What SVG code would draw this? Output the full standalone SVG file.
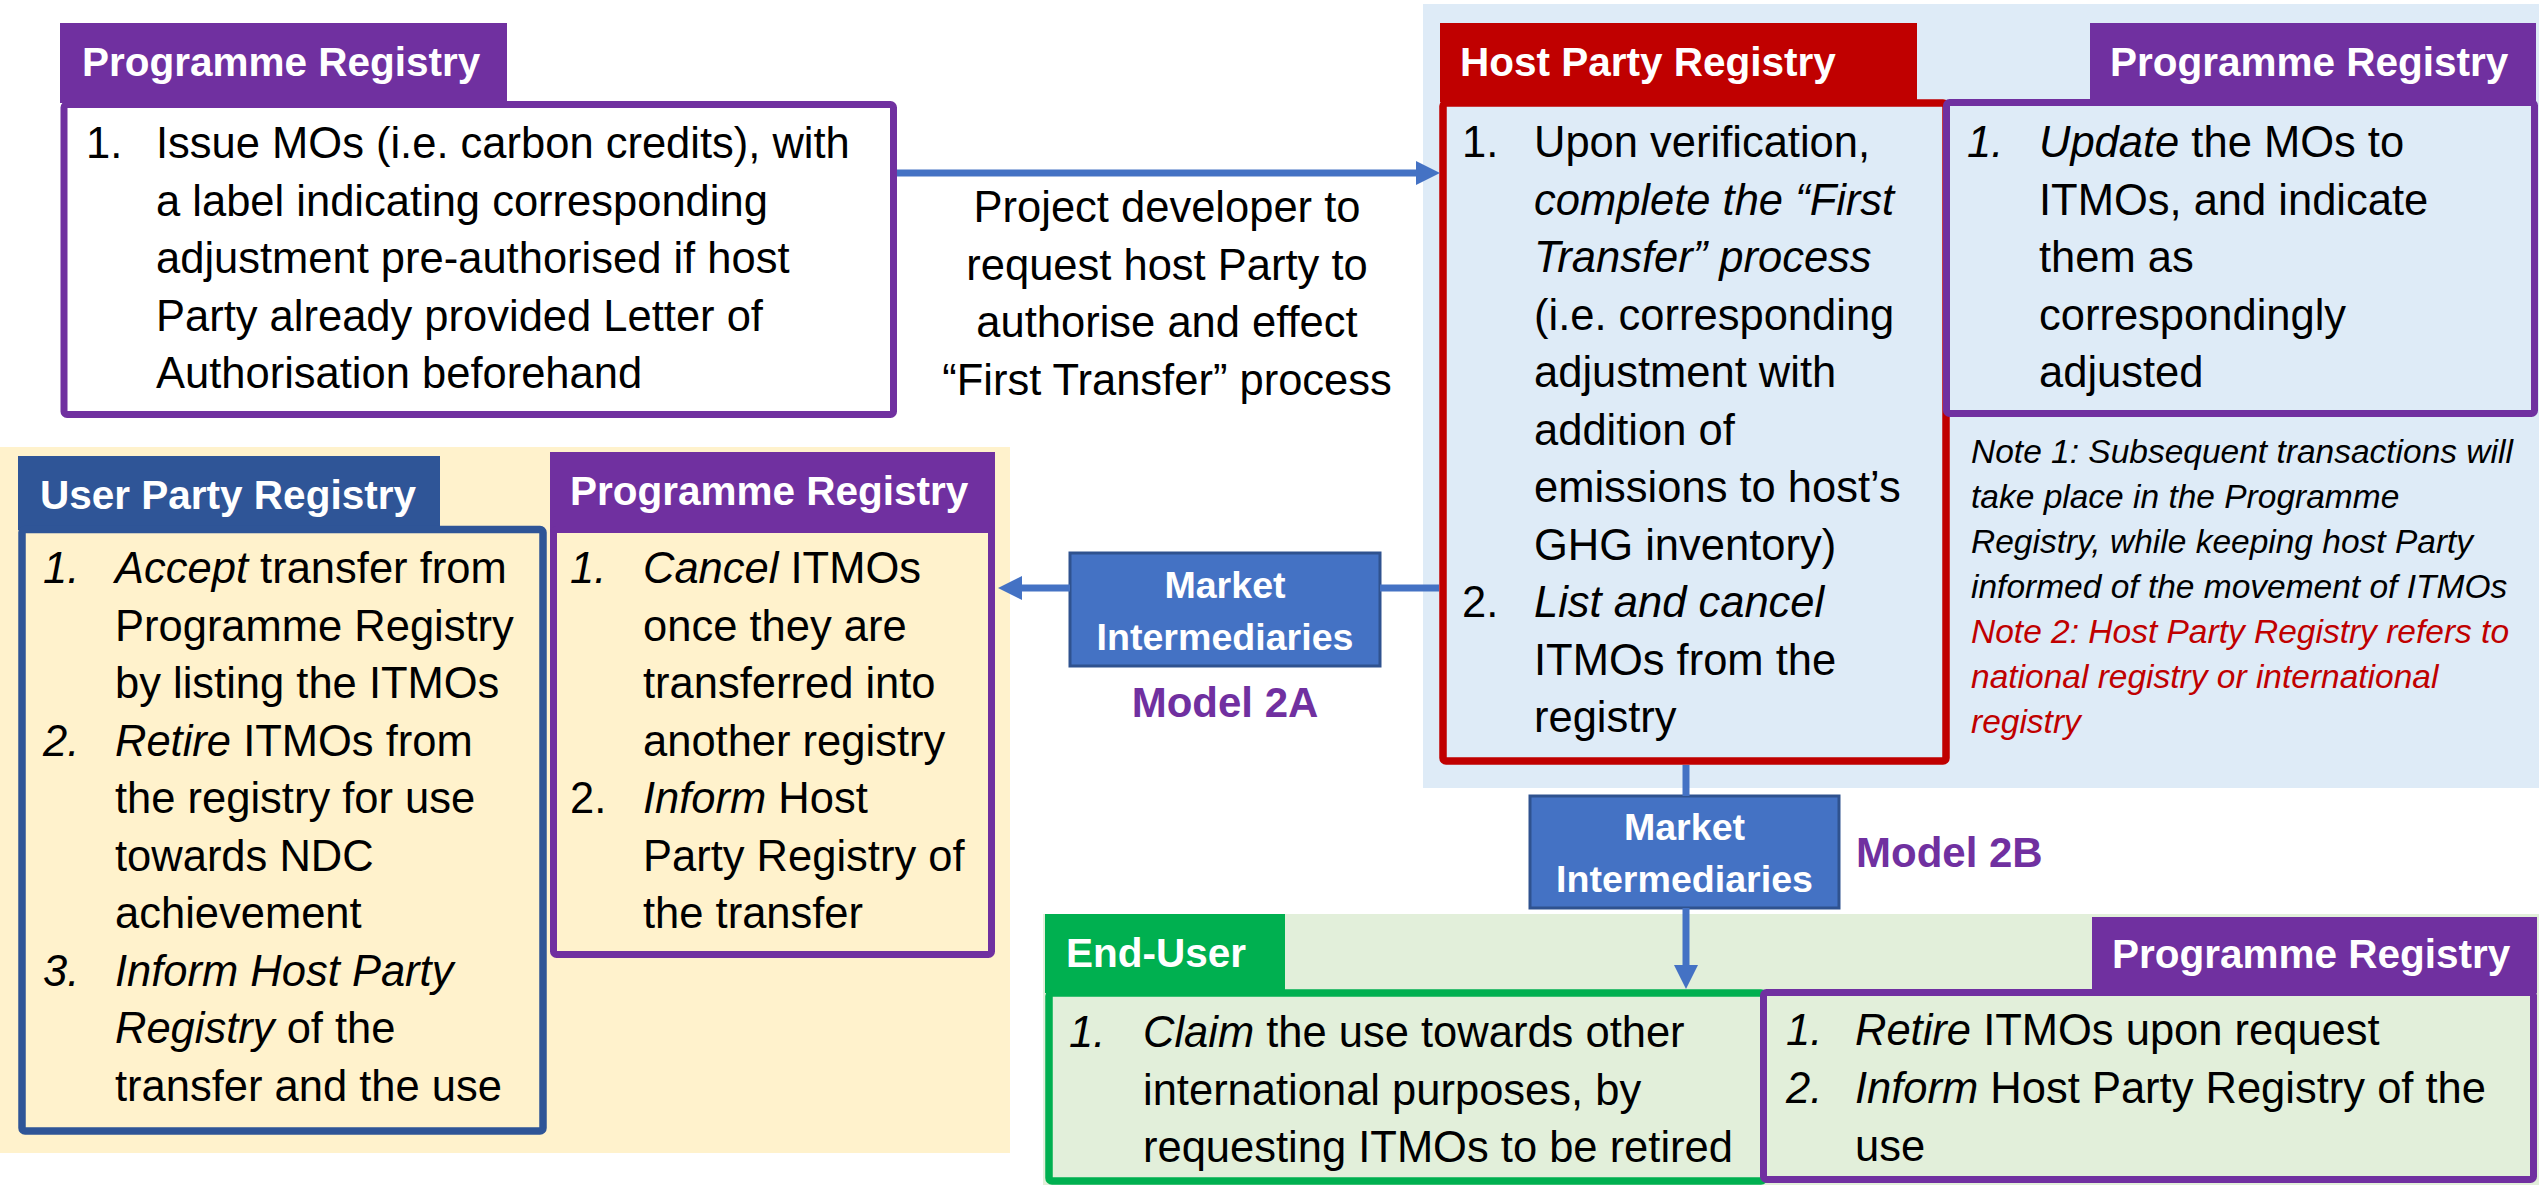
<svg xmlns="http://www.w3.org/2000/svg" width="2539" height="1185" viewBox="0 0 2539 1185">
<style>
.hdr{font-family:'Liberation Sans',Arial,sans-serif;font-weight:bold;font-size:40.5px;fill:#fff}
.t{font-family:'Liberation Sans',Arial,sans-serif;font-size:43.5px;fill:#000}
.i{font-style:italic}
.note{font-family:'Liberation Sans',Arial,sans-serif;font-size:33.5px;font-style:italic}
.mi{font-family:'Liberation Sans',Arial,sans-serif;font-weight:bold;font-size:37.6px;fill:#fff;text-anchor:middle}
.model{font-family:'Liberation Sans',Arial,sans-serif;font-weight:bold;font-size:42px;fill:#7030A0}
.pbox{stroke:#7030A0;stroke-width:7}
.pfill{fill:#7030A0}
.mbox{fill:#4472C4;stroke:#2F528F;stroke-width:3}
.conn{stroke:#4472C4;stroke-width:7;fill:none}
</style>
<defs>
<marker id="ah" markerUnits="userSpaceOnUse" viewBox="0 0 24 24" refX="2" refY="12" markerWidth="24" markerHeight="24" orient="auto">
<path d="M0,0 L24,12 L0,24 Z" fill="#4472C4"/>
</marker>
</defs>

<g id="regions">
<rect x="1423" y="4" width="1116" height="784" fill="#DEEBF7"/>
<rect x="0" y="447" width="1010" height="706" fill="#FFF2CC"/>
<rect x="1043" y="914" width="1496" height="271" fill="#E2EFDA"/>
</g>

<g id="programme-registry-issue">
<rect x="60" y="23" width="447" height="80" class="pfill"/>
<text class="hdr" x="82" y="76">Programme Registry</text>
<rect x="64" y="104.5" width="829.5" height="310" rx="3" fill="#fff" class="pbox"/>
<text class="t" x="86" y="158">1.</text>
<text class="t" x="156" y="158">Issue MOs (i.e. carbon credits), with</text>
<text class="t" x="156" y="215.5">a label indicating corresponding</text>
<text class="t" x="156" y="273">adjustment pre-authorised if host</text>
<text class="t" x="156" y="330.5">Party already provided Letter of</text>
<text class="t" x="156" y="388">Authorisation beforehand</text>
</g>

<g id="request-label">
<text class="t" text-anchor="middle" x="1167" y="222">Project developer to</text>
<text class="t" text-anchor="middle" x="1167" y="280">request host Party to</text>
<text class="t" text-anchor="middle" x="1167" y="337">authorise and effect</text>
<text class="t" text-anchor="middle" x="1167" y="395">“First Transfer” process</text>
</g>

<g id="host-party-registry">
<rect x="1440" y="23" width="477" height="79" fill="#C00000"/>
<text class="hdr" x="1460" y="76">Host Party Registry</text>
<rect x="1443" y="103" width="503" height="658" rx="3" fill="#DEEBF7" stroke="#C00000" stroke-width="7.5"/>
<text class="t" x="1462" y="157">1.</text>
<text class="t" x="1534" y="157">Upon verification,</text>
<text class="t i" x="1534" y="214.5">complete the “First</text>
<text class="t i" x="1534" y="272">Transfer” process</text>
<text class="t" x="1534" y="329.5">(i.e. corresponding</text>
<text class="t" x="1534" y="387">adjustment with</text>
<text class="t" x="1534" y="444.5">addition of</text>
<text class="t" x="1534" y="502">emissions to host’s</text>
<text class="t" x="1534" y="559.5">GHG inventory)</text>
<text class="t" x="1462" y="617">2.</text>
<text class="t i" x="1534" y="617">List and cancel</text>
<text class="t" x="1534" y="674.5">ITMOs from the</text>
<text class="t" x="1534" y="732">registry</text>
</g>

<g id="programme-registry-update">
<rect x="2090" y="23" width="446" height="80" class="pfill"/>
<text class="hdr" x="2110" y="76">Programme Registry</text>
<rect x="1946.5" y="102.5" width="588" height="311" rx="3" fill="#DEEBF7" class="pbox"/>
<text class="t i" x="1967" y="157">1.</text>
<text class="t" x="2039" y="157"><tspan class="i">Update</tspan> the MOs to</text>
<text class="t" x="2039" y="214.5">ITMOs, and indicate</text>
<text class="t" x="2039" y="272">them as</text>
<text class="t" x="2039" y="329.5">correspondingly</text>
<text class="t" x="2039" y="387">adjusted</text>
</g>

<g id="notes">
<text class="note" x="1971" y="463">Note 1: Subsequent transactions will</text>
<text class="note" x="1971" y="508">take place in the Programme</text>
<text class="note" x="1971" y="553">Registry, while keeping host Party</text>
<text class="note" x="1971" y="598">informed of the movement of ITMOs</text>
<text class="note" x="1971" y="643" fill="#C00000">Note 2: Host Party Registry refers to</text>
<text class="note" x="1971" y="688" fill="#C00000">national registry or international</text>
<text class="note" x="1971" y="733" fill="#C00000">registry</text>
</g>

<g id="user-party-registry">
<rect x="18" y="456" width="422" height="74" fill="#2F5597"/>
<text class="hdr" x="40" y="509">User Party Registry</text>
<rect x="22" y="529.5" width="521" height="601.5" rx="3" fill="#FFF2CC" stroke="#2F5597" stroke-width="7.5"/>
<text class="t i" x="43" y="583">1.</text>
<text class="t" x="115" y="583"><tspan class="i">Accept</tspan> transfer from</text>
<text class="t" x="115" y="640.5">Programme Registry</text>
<text class="t" x="115" y="698">by listing the ITMOs</text>
<text class="t i" x="43" y="755.5">2.</text>
<text class="t" x="115" y="755.5"><tspan class="i">Retire</tspan> ITMOs from</text>
<text class="t" x="115" y="813">the registry for use</text>
<text class="t" x="115" y="870.5">towards NDC</text>
<text class="t" x="115" y="928">achievement</text>
<text class="t i" x="43" y="985.5">3.</text>
<text class="t i" x="115" y="985.5">Inform Host Party</text>
<text class="t" x="115" y="1043"><tspan class="i">Registry</tspan> of the</text>
<text class="t" x="115" y="1100.5">transfer and the use</text>
</g>

<g id="programme-registry-cancel">
<rect x="550" y="452" width="445" height="80" class="pfill"/>
<text class="hdr" x="570" y="505">Programme Registry</text>
<rect x="553.5" y="529.5" width="438" height="425" rx="3" fill="#FFF2CC" class="pbox"/>
<text class="t i" x="570" y="583">1.</text>
<text class="t" x="643" y="583"><tspan class="i">Cancel</tspan> ITMOs</text>
<text class="t" x="643" y="640.5">once they are</text>
<text class="t" x="643" y="698">transferred into</text>
<text class="t" x="643" y="755.5">another registry</text>
<text class="t" x="570" y="813">2.</text>
<text class="t" x="643" y="813"><tspan class="i">Inform</tspan> Host</text>
<text class="t" x="643" y="870.5">Party Registry of</text>
<text class="t" x="643" y="928">the transfer</text>
</g>

<g id="market-intermediaries-2a">
<rect x="1070" y="553" width="310" height="113" class="mbox"/>
<text class="mi" x="1225" y="598">Market</text>
<text class="mi" x="1225" y="650">Intermediaries</text>
<text class="model" text-anchor="middle" x="1225" y="717">Model 2A</text>
</g>

<g id="market-intermediaries-2b">
<rect x="1530" y="796" width="309" height="112" class="mbox"/>
<text class="mi" x="1684.5" y="840">Market</text>
<text class="mi" x="1684.5" y="892">Intermediaries</text>
<text class="model" x="1856" y="867">Model 2B</text>
</g>

<g id="end-user">
<rect x="1045" y="914" width="240" height="79" fill="#00B050"/>
<text class="hdr" x="1066" y="967">End-User</text>
<rect x="1049" y="993" width="715" height="188" rx="3" fill="#E2EFDA" stroke="#00B050" stroke-width="7.5"/>
<text class="t i" x="1069" y="1047">1.</text>
<text class="t" x="1143" y="1047"><tspan class="i">Claim</tspan> the use towards other</text>
<text class="t" x="1143" y="1104.5">international purposes, by</text>
<text class="t" x="1143" y="1162">requesting ITMOs to be retired</text>
</g>

<g id="programme-registry-retire">
<rect x="2092" y="917" width="445" height="76" class="pfill"/>
<text class="hdr" x="2112" y="968">Programme Registry</text>
<rect x="1763.5" y="992.5" width="770" height="187" rx="3" fill="#E2EFDA" class="pbox"/>
<text class="t i" x="1786" y="1045">1.</text>
<text class="t" x="1855" y="1045"><tspan class="i">Retire</tspan> ITMOs upon request</text>
<text class="t i" x="1786" y="1103">2.</text>
<text class="t" x="1855" y="1103"><tspan class="i">Inform</tspan> Host Party Registry of the</text>
<text class="t" x="1855" y="1161">use</text>
</g>

<g id="connectors">
<line class="conn" x1="897" y1="173" x2="1418" y2="173" marker-end="url(#ah)"/>
<line class="conn" x1="1380" y1="588" x2="1439" y2="588"/>
<line class="conn" x1="1070" y1="588" x2="1020" y2="588" marker-end="url(#ah)"/>
<line class="conn" x1="1686" y1="765" x2="1686" y2="796"/>
<line class="conn" x1="1686" y1="908" x2="1686" y2="967" marker-end="url(#ah)"/>
</g>
</svg>
